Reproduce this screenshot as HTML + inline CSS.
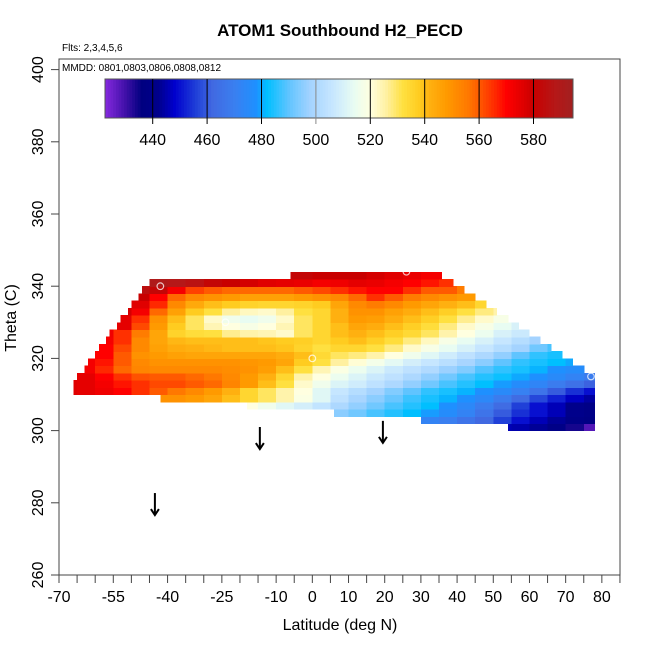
<!DOCTYPE html>
<html><head><meta charset="utf-8"><style>
html,body{margin:0;padding:0;background:#fff;}
svg{display:block;font-family:"Liberation Sans",Arial,sans-serif;}
</style></head><body>
<svg id="chart" width="650" height="650" viewBox="0 0 650 650">
<text x="340" y="36" text-anchor="middle" font-size="17" font-weight="bold">ATOM1 Southbound H2_PECD</text>
<text x="62" y="51" font-size="10">Flts: 2,3,4,5,6</text>
<g id="cells" shape-rendering="crispEdges"></g>
<g id="marks"></g>
<rect x="59" y="59" width="561" height="516" fill="none" stroke="#444" stroke-width="1"/>
<text x="62" y="71" font-size="10">MMDD: 0801,0803,0806,0808,0812</text>
<g id="cbar"></g>
<g id="axes" font-size="16"></g>
<text x="340" y="630" text-anchor="middle" font-size="16">Latitude (deg N)</text>
<text transform="translate(16,318) rotate(-90)" text-anchor="middle" font-size="16">Theta (C)</text>
</svg>
<script>
// ---- data ----
const rowTheta = [300,302,304,306,308,310,312,314,316,318,320,322,324,326,328,330,332,334,336,338,340,342];
const rowLo = [54,30,6,-18,-42,-66,-66,-65,-63,-62,-60,-59,-57,-56,-54,-53,-51,-50,-48,-47,-46,-6];
const rowHi = [78,78,78,78,78,78,78,78,75,71.9,68.9,65.9,62.9,59.9,56.9,54,50.9,48,44.9,41.9,38.8,35.7];
const rowStart = [50,30,5,-20,-45,-70,-70,-65,-65,-65,-60,-60,-60,-60,-55,-55,-55,-50,-50,-50,-45,-10];
const r300 = [446,445,443,440,434,428];
const r302 = [472,470,466,462,456,450,446,443,440,438];
const r304 = [495,492,488,485,482,479,476,472,466,460,454,450,446,442,440];
const r306 = [520,516,512,509,505,500,496,492,488,485,482,478,474,469,463,456,450,446,442,440];
const r308 = [550,550,548,545,540,535,530,525,519,512,504,499,495,491,487,484,481,478,474,469,463,457,452,447,444];
const r310 = [576,575,573,570,565,560,556,552,548,542,535,530,525,520,512,506,502,498,494,490,486,484,481,478,475,471,466,460,454,450];
const r312 = [576,575,572,568,565,562,562,560,558,553,548,540,532,522,516,511,508,504,500,496,492,488,485,482,479,476,473,469,465,461];
const r314 = [575,570,565,561,560,560,558,556,552,548,542,535,525,520,515,511,507,504,500,496,492,488,485,483,480,478,475,472,469];
const r316 = [572,566,558,553,552,552,552,552,551,550,547,540,532,524,519,515,511,507,504,501,497,494,489,486,484,481,478,476,474];
const r318 = [572,568,560,552,550,550,550,550,550,549,548,545,538,532,526,521,517,513,509,506,503,499,495,490,486,484,482,480];
const r320 = [570,560,550,548,546,545,545,545,545,545,543,540,534,530,528,525,520,516,512,508,504,500,496,490,486,484];
const r322 = [570,562,552,546,543,542,541,540,540,540,539,536,532,535,535,532,528,522,518,514,510,506,502,498,492,488];
const r324 = [572,565,552,545,541,540,540,540,540,539,538,537,535,538,540,537,533,528,523,518,514,510,506,502,498];
const r326 = [573,565,555,545,536,533,532,527,525,524,522,530,535,540,542,540,537,534,530,525,520,515,510,507];
const r328 = [575,562,548,538,530,524,520,518,520,524,530,535,540,545,543,540,537,533,528,522,518,514,510];
const r330 = [575,565,550,540,530,522,516,514,516,522,530,535,542,548,547,543,540,537,532,527,522,518];
const r332 = [578,572,558,546,538,532,526,523,522,526,532,535,542,550,550,546,543,540,537,532,528,525];
const r334 = [576,566,552,544,540,538,536,535,535,536,538,545,552,555,552,548,545,542,540,535];
const r336 = [580,570,558,552,550,548,546,546,546,548,550,552,558,565,560,555,552,550,548,545];
const r338 = [585,582,572,563,560,558,558,558,558,560,562,565,568,570,570,565,560,560,555];
const r340 = [590,588,586,582,580,578,576,575,574,572,573,575,574,572,570,568,565];
const r342 = [582,582,580,580,580,578,576,574,572,572];
const rows = [r300,r302,r304,r306,r308,r310,r312,r314,r316,r318,r320,r322,r324,r326,r328,r330,r332,r334,r336,r338,r340,r342];
const markLat = [-42,-24,0,26,-68,-69,77];
const markTheta = [340,330,320,344,314,312,315];
const arrowLat = [-43.5,-14.5,19.5];
const arrowTop = [282.7,301,302.7];
const arrowTip = [276.6,294.9,296.6];
const xTicks = [-70,-65,-60,-55,-50,-45,-40,-35,-30,-25,-20,-15,-10,-5,0,5,10,15,20,25,30,35,40,45,50,55,60,65,70,75,80,85];
const xLabels = [-70,-55,-40,-25,-10,0,10,20,30,40,50,60,70,80];
const yTicks = [260,280,300,320,340,360,380,400];
const cbTicks = [440,460,480,500,520,540,560,580];

// ---- scales ----
const X = lat => 59 + (lat + 70) * 3.619;
const Y = th => 575 - (th - 260) * 3.61;
const CB = v => 152.7 + (v - 440) * 2.72;
const stops = [[422,'#8a2be2'],[430,'#4010a8'],[436,'#000080'],[442,'#00008b'],[448,'#0000cd'],[456,'#2040d8'],[462,'#4169e1'],[470,'#3a7ff0'],[478,'#1e90ff'],[482,'#00bfff'],[490,'#60c4ff'],[498,'#a4d3ff'],[506,'#c6e6ff'],[514,'#e8fcf2'],[520,'#ffffe0'],[526,'#fff0a0'],[532,'#ffe040'],[538,'#ffcc20'],[542,'#ffb010'],[548,'#ff9a00'],[556,'#ff7800'],[560,'#ff5a00'],[566,'#ff2800'],[570,'#ff0000'],[576,'#e00000'],[580,'#c80000'],[588,'#b51818'],[595,'#a02020']];
function hx(h){return [parseInt(h.substr(1,2),16),parseInt(h.substr(3,2),16),parseInt(h.substr(5,2),16)];}
function col(v){
  if(v<=stops[0][0]) return stops[0][1];
  for(let i=1;i<stops.length;i++){
    if(v<=stops[i][0]){
      const a=hx(stops[i-1][1]),b=hx(stops[i][1]),t=(v-stops[i-1][0])/(stops[i][0]-stops[i-1][0]);
      return 'rgb('+a.map((c,j)=>Math.round(c+(b[j]-c)*t)).join(',')+')';
    }
  }
  return stops[stops.length-1][1];
}
const NS='http://www.w3.org/2000/svg';
function mk(tag,attrs,parent){const e=document.createElementNS(NS,tag);for(const k in attrs)e.setAttribute(k,attrs[k]);parent.appendChild(e);return e;}

// ---- heatmap ----
const cells=document.getElementById('cells');
rows.forEach((vals,k)=>{
  const t0=rowTheta[k];
  vals.forEach((v,i)=>{
    let a=rowStart[k]+5*i, b=a+5;
    a=Math.max(a,rowLo[k]); b=Math.min(b,rowHi[k]);
    if(b<=a) return;
    const r=mk('rect',{x:X(a).toFixed(2),y:Y(t0+2).toFixed(2),width:(X(b)-X(a)+0.6).toFixed(2),height:(Y(t0)-Y(t0+2)+0.6).toFixed(2),fill:col(v)},cells);
    
    
  });
});

// ---- markers ----
const marks=document.getElementById('marks');
markLat.forEach((la,i)=>{
  const c=mk('circle',{cx:X(la),cy:Y(markTheta[i]),r:3.3,fill:'none',stroke:'#fff','stroke-opacity':0.75,'stroke-width':1.2},marks);
  
  
});
arrowLat.forEach((la,i)=>{
  const g=mk('g',{stroke:'#000','stroke-width':2,fill:'none'},marks);
  
  
  const x=X(la),y1=Y(arrowTop[i]),y2=Y(arrowTip[i]);
  mk('line',{x1:x,y1:y1,x2:x,y2:y2},g);
  mk('polyline',{points:(x-4)+','+(y2-6)+' '+x+','+y2+' '+(x+4)+','+(y2-6)},g);
});

// ---- colorbar ----
const cb=document.getElementById('cbar');
for(let v=422.5; v<594.5; v+=1){
  const r=mk('rect',{x:CB(v).toFixed(2),y:79,width:(2.72+0.5).toFixed(2),height:39,fill:col(v+0.5)},cb);
  
  
}
const cbf=mk('rect',{x:105,y:79,width:468,height:39,fill:'none',stroke:'#555','stroke-width':1},cb);


cbTicks.forEach(v=>{
  mk('line',{x1:CB(v),x2:CB(v),y1:79,y2:124,stroke:v===500?'#888':'#000','stroke-width':1},cb);
  const t=mk('text',{x:CB(v),y:145,'text-anchor':'middle','font-size':16},cb);
  t.textContent=v;
  
  
});

// ---- axes ----
const ax=document.getElementById('axes');
xTicks.forEach(v=>{mk('line',{x1:X(v),x2:X(v),y1:575,y2:583,stroke:'#444'},ax);});
xLabels.forEach(v=>{
  const t=mk('text',{x:X(v),y:602,'text-anchor':'middle'},ax);
  t.textContent=v;
  
  
});
yTicks.forEach(v=>{
  mk('line',{x1:51,x2:59,y1:Y(v),y2:Y(v),stroke:'#444'},ax);
  const t=mk('text',{transform:'translate(43,'+Y(v)+') rotate(-90)','text-anchor':'middle'},ax);
  t.textContent=v;
  
  
});
</script>
</body></html>
